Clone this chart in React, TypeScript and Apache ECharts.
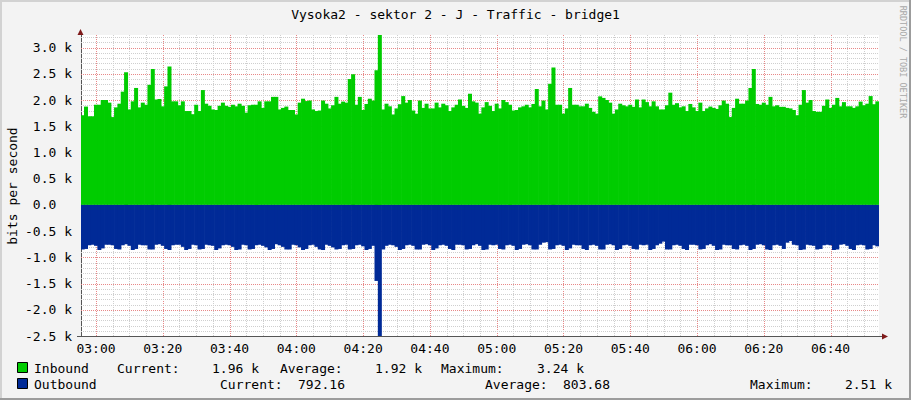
import React, { useEffect, useRef } from 'react';
import * as echarts from 'echarts';

// one value per minute, 02:56 .. 06:54, in kbit/s
const inbound = [
  1.71, 1.875, 1.69, 1.69,
  1.91, 1.91, 2.0, 2.0, 1.95, 1.675, 1.86, 1.93, 2.16, 2.53,
  1.82, 1.975, 2.23, 1.86, 1.95, 1.91, 2.29, 2.59, 2.01, 2.02,
  1.88, 2.26, 2.64, 1.975, 1.975, 1.9, 1.975, 1.79, 1.79, 1.73,
  1.91, 1.79, 2.19, 1.93, 1.89, 1.82, 1.81, 1.89, 1.95, 1.89,
  1.87, 1.91, 1.88, 1.93, 1.89, 1.76, 1.9, 1.91, 1.91, 1.975,
  1.85, 1.975, 1.975, 2.06, 2.06, 1.82,
  1.85, 1.875, 1.81, 1.81,
  1.725, 1.95, 2.025, 1.98, 1.99, 1.82, 1.79, 1.8, 1.99, 1.93,
  1.84, 1.9, 2.06, 1.93, 1.97, 1.95, 2.4, 2.49, 1.91, 2.06,
  1.81, 1.925, 2.025, 1.99, 2.57, 3.24, 1.82, 1.93, 1.88, 1.725,
  1.84, 1.92, 2.075, 1.95, 2.0, 1.8, 1.74, 1.99, 1.85, 1.93,
  1.84, 1.84, 1.95, 1.86, 1.93, 1.9, 1.79, 1.86, 1.91, 2.01,
  1.89, 1.85, 2.12, 1.975, 1.95, 1.74,
  1.86, 1.96, 1.89, 1.79,
  1.93, 1.84, 2.0, 1.96, 1.91, 1.8, 1.81, 1.86, 1.88, 1.91,
  1.86, 1.925, 2.21, 1.88, 1.99, 1.82, 2.31, 2.62, 1.91, 1.91,
  1.74, 1.84, 2.23, 1.91, 1.91, 1.88, 1.88, 1.93, 1.85, 1.775,
  1.74, 2.07, 2.04, 2.0, 1.95, 1.74, 1.82, 1.93, 1.9, 1.88,
  1.91, 1.87, 2.01, 1.86, 2.01, 1.96, 1.88, 1.975, 1.88, 1.82,
  1.82, 1.9, 2.14, 1.91, 1.94,
  1.86, 1.88, 1.79, 1.925, 1.86,
  1.79, 1.95, 1.79, 1.84, 1.875, 1.85, 1.83, 1.9, 1.99, 1.93,
  1.675, 1.85, 2.025, 1.93, 1.93, 1.99, 2.23, 2.59, 1.925, 1.91,
  1.95, 1.91, 2.06, 1.88, 1.9, 1.87, 1.87, 1.85, 1.84, 1.81,
  1.71, 1.91, 2.19, 1.95, 2.0, 1.79, 1.775, 1.775, 1.89, 2.01,
  1.85, 1.91, 2.04, 1.88, 1.96, 1.88, 1.88, 1.85, 1.88, 1.97,
  1.9, 1.93, 2.075, 1.92, 1.975,
];

const outbound = [
  -0.85, -0.84, -0.77, -0.76, -0.78,
  -0.86, -0.83, -0.76, -0.76, -0.77,
  -0.84, -0.85, -0.77, -0.75, -0.78,
  -0.86, -0.84, -0.76, -0.77, -0.77,
  -0.85, -0.85, -0.76, -0.75, -0.78,
  -0.84, -0.86, -0.77, -0.76, -0.76,
  -0.8, -0.86, -0.84, -0.76, -0.77,
  -0.85, -0.84, -0.76, -0.77, -0.78,
  -0.86, -0.83, -0.77, -0.76, -0.77,
  -0.8, -0.86, -0.85, -0.76, -0.77,
  -0.85, -0.84, -0.77, -0.76, -0.78,
  -0.81, -0.86, -0.84, -0.75, -0.77,
  -0.8, -0.85, -0.85, -0.76, -0.77,
  -0.81, -0.86, -0.84, -0.77, -0.76,
  -0.8, -0.85, -0.86, -0.76, -0.78,
  -0.81, -0.85, -0.84, -0.77, -0.76,
  -0.85, -0.84, -0.77, -0.76, -0.79,
  -0.86, -0.84, -0.78, -1.45, -2.51,
  -0.85, -0.78, -0.76, -0.77, -0.8,
  -0.86, -0.84, -0.77, -0.76, -0.78,
  -0.85, -0.85, -0.76, -0.75, -0.77,
  -0.86, -0.83, -0.77, -0.76, -0.78,
  -0.84, -0.86, -0.76, -0.76, -0.77,
  -0.85, -0.84, -0.77, -0.75, -0.78,
  -0.86, -0.85, -0.76, -0.77, -0.76,
  -0.84, -0.85, -0.77, -0.76, -0.78,
  -0.86, -0.84, -0.76, -0.75, -0.77,
  -0.85, -0.85, -0.76, -0.72, -0.71,
  -0.85, -0.84, -0.77, -0.76, -0.78,
  -0.86, -0.83, -0.76, -0.77, -0.77,
  -0.84, -0.86, -0.77, -0.76, -0.78,
  -0.85, -0.85, -0.76, -0.75, -0.77,
  -0.86, -0.84, -0.77, -0.76, -0.78,
  -0.84, -0.85, -0.76, -0.77, -0.76,
  -0.86, -0.84, -0.77, -0.74, -0.7,
  -0.85, -0.85, -0.77, -0.76, -0.78,
  -0.84, -0.86, -0.76, -0.76, -0.77,
  -0.85, -0.84, -0.77, -0.75, -0.78,
  -0.86, -0.85, -0.76, -0.77, -0.77,
  -0.84, -0.85, -0.77, -0.76, -0.78,
  -0.86, -0.84, -0.76, -0.75, -0.77,
  -0.85, -0.86, -0.77, -0.76, -0.78,
  -0.84, -0.72, -0.69, -0.76, -0.77,
  -0.86, -0.85, -0.76, -0.77, -0.78,
  -0.85, -0.84, -0.77, -0.76, -0.77,
  -0.86, -0.85, -0.76, -0.75, -0.78,
  -0.84, -0.86, -0.77, -0.76, -0.77,
  -0.85, -0.84, -0.77, -0.79,
];

const startMinute = 2 * 60 + 56;
const categories = inbound.map((_, i) => {
  const t = startMinute + i;
  return `${String(Math.floor(t / 60)).padStart(2, '0')}:${String(t % 60).padStart(2, '0')}`;
});

const inboundStats = ['1.96 k', '1.92 k', '3.24 k'];
const outboundStats = ['792.16', '803.68', '2.51 k'];

const FONT = '"DejaVu Sans Mono", monospace';
const GREEN = '#00cc00';
const BLUE = '#002a97';
const GRID_MINOR = '#cfcfcf';
const GRID_MAJOR = '#e88888';
const Y_MIN = -2.5;
const Y_MAX = 3.24;

const minuteOf = (c: string) => Number(c.slice(3));

const App: React.FC = () => {
  const chartRef = useRef<HTMLDivElement>(null);

  useEffect(() => {
    if (!chartRef.current) return;
    const chart = echarts.init(chartRef.current, null, { renderer: 'svg' });

    // grid lines: minor first, major after so red sits on top
    const vMinor: number[][] = [];
    const vMajor: number[][] = [];
    categories.forEach((c, i) => {
      const m = minuteOf(c);
      if (m % 20 === 0) vMajor.push([i, 1]);
      else if (m % 5 === 0) vMinor.push([i, 0]);
    });
    const hMinor: number[][] = [];
    const hMajor: number[][] = [];
    for (let k = -24; k <= 32; k++) {
      if (k % 5 === 0) hMajor.push([0, k / 10, 1]);
      else hMinor.push([0, k / 10, 0]);
    }

    const gridStyle = (major: boolean) => ({
      stroke: major ? GRID_MAJOR : GRID_MINOR,
      lineWidth: 1,
      lineDash: [1, 1],
    });

    const renderV = (params: any, api: any) => {
      const cs = params.coordSys;
      const x = Math.round(api.coord([api.value(0), 0])[0]) + 0.5;
      return {
        type: 'line',
        silent: true,
        shape: { x1: x, y1: cs.y, x2: x, y2: cs.y + cs.height },
        style: gridStyle(api.value(1) === 1),
      };
    };

    const renderH = (params: any, api: any) => {
      const cs = params.coordSys;
      const y = Math.round(api.coord([0, api.value(1)])[1]) + 0.5;
      return {
        type: 'line',
        silent: true,
        shape: { x1: cs.x, y1: y, x2: cs.x + cs.width, y2: y },
        style: gridStyle(api.value(2) === 1),
      };
    };

    const txt = (text: string, x: number, y: number, extra: any = {}) => ({
      type: 'text',
      x,
      y,
      silent: true,
      style: {
        text,
        font: `13px ${FONT}`,
        fill: '#000',
        align: 'left',
        verticalAlign: 'middle',
        ...extra,
      },
    });

    const option = {
      animation: false,
      backgroundColor: '#f3f3f3',
      textStyle: { fontFamily: FONT },
      grid: {
        left: 81,
        top: 35,
        width: 798,
        height: 301,
        show: true,
        backgroundColor: '#ffffff',
        borderWidth: 0,
      },
      xAxis: {
        type: 'category',
        data: categories,
        boundaryGap: true,
        axisLine: { onZero: false, lineStyle: { color: '#555', width: 1 } },
        axisTick: { show: false },
        splitLine: { show: false },
        axisLabel: {
          interval: (_: number, v: string) => minuteOf(v) % 20 === 0,
          color: '#000',
          fontFamily: FONT,
          fontSize: 13,
          margin: 6,
        },
      },
      yAxis: {
        type: 'value',
        min: Y_MIN,
        max: Y_MAX,
        interval: 0.5,
        axisLine: { show: true, lineStyle: { color: '#555', width: 1 } },
        axisTick: { show: false },
        splitLine: { show: false },
        axisLabel: {
          showMaxLabel: false,
          color: '#000',
          fontFamily: FONT,
          fontSize: 13,
          margin: 9,
          formatter: (v: number) =>
            Math.abs(v) < 1e-9 ? '0.0\u00a0\u00a0' : `${v.toFixed(1)} k`,
        },
      },
      series: [
        {
          type: 'custom',
          name: 'vgrid',
          z: 1,
          silent: true,
          clip: false,
          encode: { x: 0, y: 1 },
          data: [...vMinor, ...vMajor],
          renderItem: renderV,
        },
        {
          type: 'custom',
          name: 'hgrid',
          z: 1,
          silent: true,
          clip: false,
          encode: { x: 0, y: 1 },
          data: [...hMinor, ...hMajor],
          renderItem: renderH,
        },
        {
          name: 'Inbound',
          type: 'bar',
          data: inbound,
          z: 2,
          barWidth: 4,
          barGap: '-100%',
          itemStyle: { color: GREEN },
        },
        {
          name: 'Outbound',
          type: 'bar',
          data: outbound,
          z: 2,
          barWidth: 4,
          barGap: '-100%',
          itemStyle: { color: BLUE },
        },
      ],
      graphic: [
        // frame
        { type: 'rect', silent: true, shape: { x: 0, y: 0, width: 911, height: 2 }, style: { fill: '#d2d2d2' } },
        { type: 'rect', silent: true, shape: { x: 0, y: 0, width: 2, height: 400 }, style: { fill: '#d2d2d2' } },
        { type: 'rect', silent: true, shape: { x: 0, y: 398, width: 911, height: 2 }, style: { fill: '#9c9c9c' } },
        { type: 'rect', silent: true, shape: { x: 909, y: 0, width: 2, height: 400 }, style: { fill: '#9c9c9c' } },
        // axis arrows
        { type: 'line', silent: true, z: 10, shape: { x1: 77, y1: 336.5, x2: 884, y2: 336.5 }, style: { stroke: '#555', lineWidth: 1 } },
        { type: 'polygon', silent: true, z: 10, shape: { points: [[80.5, 29], [77.5, 35], [83.5, 35]] }, style: { fill: '#7f1a1a' } },
        { type: 'polygon', silent: true, z: 10, shape: { points: [[888, 336.5], [882, 333.5], [882, 339.5]] }, style: { fill: '#7f1a1a' } },
        // titles
        txt('Vysoka2 - sektor 2 - J - Traffic - bridge1', 455.5, 14, { align: 'center' }),
        { ...txt('bits per second', 12, 186, { align: 'center' }), rotation: Math.PI / 2 },
        {
          ...txt('RRDTOOL / TOBI OETIKER', 903, 62, { align: 'center', fill: '#a8a8a8', font: `8.5px ${FONT}` }),
          rotation: -Math.PI / 2,
        },
        // legend
        { type: 'rect', silent: true, shape: { x: 17.5, y: 362.5, width: 10, height: 10 }, style: { fill: GREEN, stroke: '#000', lineWidth: 1 } },
        { type: 'rect', silent: true, shape: { x: 17.5, y: 378.5, width: 10, height: 10 }, style: { fill: BLUE, stroke: '#000', lineWidth: 1 } },
        txt('Inbound', 34, 368),
        txt('Current:', 117, 368),
        txt(inboundStats[0], 212, 368),
        txt('Average:', 280, 368),
        txt(inboundStats[1], 375, 368),
        txt('Maximum:', 441, 368),
        txt(inboundStats[2], 537, 368),
        txt('Outbound', 34, 384),
        txt('Current:', 220, 384),
        txt(outboundStats[0], 298, 384),
        txt('Average:', 485, 384),
        txt(outboundStats[1], 563, 384),
        txt('Maximum:', 750, 384),
        txt(outboundStats[2], 845, 384),
      ],
    };

    chart.setOption(option as any);

    return () => {
      chart.dispose();
    };
  }, []);

  return (
    <div style={{ position: 'absolute', left: 0, top: 0, width: 911, height: 400 }}>
      <div ref={chartRef} style={{ width: 911, height: 400 }} />
    </div>
  );
};

export default App;
